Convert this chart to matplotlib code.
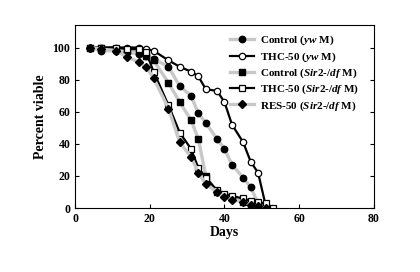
import matplotlib
matplotlib.use("Agg")
import matplotlib.pyplot as plt

# dias de medicion
days = [4, 7, 11, 14, 17, 19, 21, 25, 28, 31, 33, 35, 38, 40, 42, 45, 47, 49, 51, 53]

control_yw = [100, 98, 98, 97, 96, 95, 93, 88, 76, 70, 59, 53, 43, 37, 27, 19, 13, 3, 0]
thc_yw = [100, 100, 100, 100, 100, 99, 98, 92, 88, 85, 82, 74, 73, 66, 52, 41, 29, 22, 2]
control_sir2 = [100, 100, 99, 98, 97, 95, 92, 78, 66, 55, 43, 20, 10, 8, 6, 4, 2, 0]
thc_sir2 = [100, 100, 100, 99, 99, 97, 85, 64, 47, 37, 25, 19, 11, 8.5, 7.5, 6, 4.6, 3.5, 3, 0]
res_sir2 = [100, 99, 98, 94, 91, 88, 81, 62, 41, 32, 22, 15, 10, 7, 5, 4, 2, 1, 0]

plt.rcParams["font.family"] = "Liberation Serif"
plt.rcParams["font.weight"] = "bold"
plt.rcParams["mathtext.fontset"] = "custom"
plt.rcParams["mathtext.rm"] = "Liberation Serif:bold"
plt.rcParams["mathtext.it"] = "Liberation Serif:italic:bold"

gray = "#c8c8c8"

fig = plt.figure(figsize=(4.2, 2.72), dpi=100)
ax = fig.add_axes([0.179, 0.235, 0.711, 0.673])

ax.plot(days[:len(control_yw)], control_yw, color=gray, lw=2.4, marker="o", ms=4.6,
        mfc="black", mec="black", label=r"Control ($\mathit{yw}$ M)")
ax.plot(days[:len(thc_yw)], thc_yw, color="black", lw=1.6, marker="o", ms=4.6,
        mfc="white", mec="black", mew=0.9, label=r"THC-50 ($\mathit{yw}$ M)")
ax.plot(days[:len(control_sir2)], control_sir2, color=gray, lw=2.4, marker="s", ms=4.4,
        mfc="black", mec="black", label=r"Control ($\mathit{Sir2}$-/$\mathit{df}$ M)")
ax.plot(days[:len(thc_sir2)], thc_sir2, color="black", lw=1.6, marker="s", ms=4.4,
        mfc="white", mec="black", mew=0.9, label=r"THC-50 ($\mathit{Sir2}$-/$\mathit{df}$ M)")
ax.plot(days[:len(res_sir2)], res_sir2, color=gray, lw=2.4, marker="D", ms=4,
        mfc="black", mec="black", label=r"RES-50 ($\mathit{Sir2}$-/$\mathit{df}$ M)")

ax.set_xlim(0, 80)
ax.set_ylim(0, 114)
ax.set_xticks([0, 20, 40, 60, 80])
ax.set_yticks([0, 20, 40, 60, 80, 100])
ax.tick_params(direction="in", right=True, labelsize=8.5, length=3)
ax.set_xlabel("Days", fontsize=10, fontweight="bold", labelpad=1)
ax.set_ylabel("Percent viable", fontsize=10, fontweight="bold")

ax.legend(loc="upper right", bbox_to_anchor=(0.98, 1.0), frameon=False, fontsize=8,
          handlelength=2.2, labelspacing=0.25, handletextpad=0.5, borderpad=0.3)

plt.savefig("out.png", dpi=100)
